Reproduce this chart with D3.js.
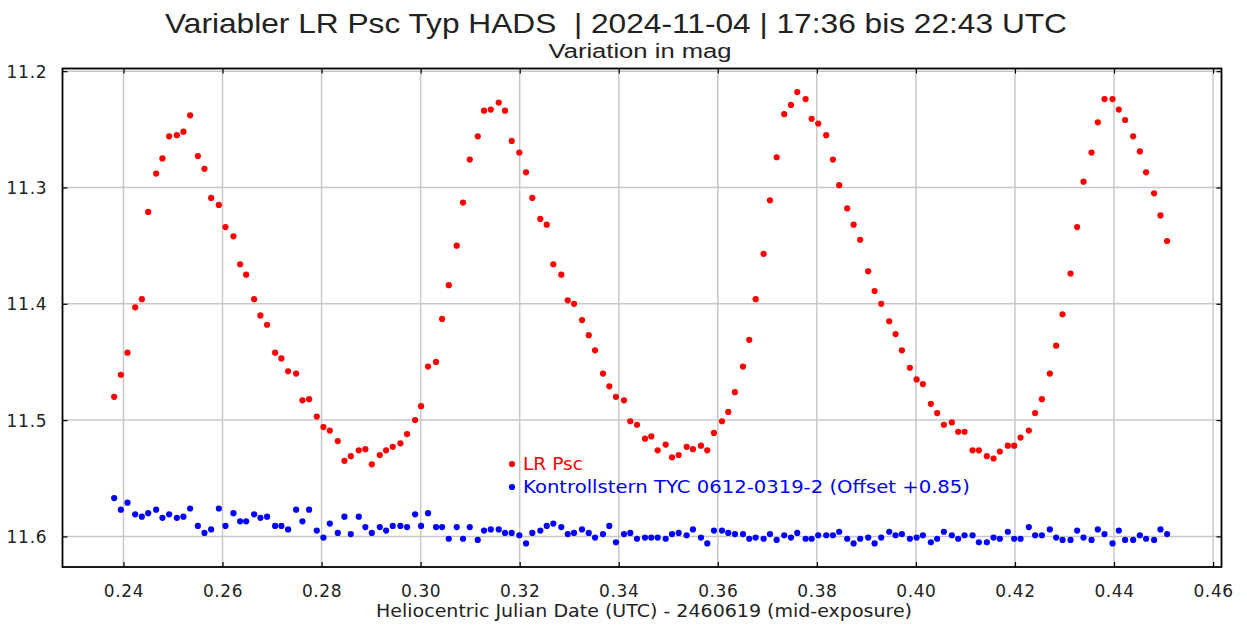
<!DOCTYPE html>
<html>
<head>
<meta charset="utf-8">
<script src="https://cdn.jsdelivr.net/npm/d3@7"></script>
<style>
  body { margin: 0; background: #fff; }
  .chart text { font-family: "DejaVu Sans", sans-serif; fill: #222; }
</style>
</head>
<body>
<div class="chart"></div>
<script>
// time axis (HJD - 2460619), shared by both stars
const hjd = [
  0.23812, 0.23948, 0.24081, 0.24236, 0.24371, 0.24499, 0.24660, 0.24787, 0.24922, 0.25078,
  0.25211, 0.25346, 0.25502, 0.25635, 0.25770, 0.25926, 0.26059, 0.26220, 0.26355, 0.26477,
  0.26638, 0.26765, 0.26900, 0.27062, 0.27189, 0.27324, 0.27486, 0.27613, 0.27748, 0.27903,
  0.28037, 0.28166, 0.28327, 0.28461, 0.28590, 0.28751, 0.28884, 0.29014, 0.29175, 0.29302,
  0.29437, 0.29591, 0.29726, 0.29888, 0.30009, 0.30150, 0.30311, 0.30433, 0.30568, 0.30729,
  0.30856, 0.30992, 0.31153, 0.31280, 0.31416, 0.31577, 0.31704, 0.31839, 0.31993, 0.32128,
  0.32255, 0.32417, 0.32546, 0.32679, 0.32840, 0.32970, 0.33097, 0.33258, 0.33394, 0.33521,
  0.33682, 0.33809, 0.33944, 0.34106, 0.34233, 0.34368, 0.34530, 0.34657, 0.34786, 0.34948,
  0.35075, 0.35210, 0.35371, 0.35498, 0.35660, 0.35787, 0.35922, 0.36084, 0.36211, 0.36346,
  0.36508, 0.36635, 0.36764, 0.36925, 0.37053, 0.37188, 0.37341, 0.37477, 0.37604, 0.37773,
  0.37894, 0.38028, 0.38189, 0.38324, 0.38451, 0.38613, 0.38742, 0.38875, 0.39037, 0.39166,
  0.39299, 0.39461, 0.39590, 0.39717, 0.39878, 0.40014, 0.40141, 0.40302, 0.40429, 0.40565,
  0.40726, 0.40853, 0.40982, 0.41144, 0.41271, 0.41432, 0.41568, 0.41695, 0.41856, 0.41984,
  0.42113, 0.42280, 0.42407, 0.42543, 0.42704, 0.42831, 0.42960, 0.43122, 0.43255, 0.43384,
  0.43546, 0.43673, 0.43808, 0.43970, 0.44097, 0.44224, 0.44386, 0.44521, 0.44648, 0.44809,
  0.44938, 0.45071
]

// LR Psc
const magVar = [
  11.480, 11.461, 11.442, 11.403, 11.396, 11.321, 11.288, 11.275, 11.256, 11.255,
  11.252, 11.238, 11.273, 11.284, 11.309, 11.315, 11.334, 11.342, 11.366, 11.375,
  11.396, 11.410, 11.418, 11.442, 11.447, 11.458, 11.460, 11.483, 11.482, 11.497,
  11.506, 11.509, 11.518, 11.535, 11.531, 11.526, 11.525, 11.538, 11.530, 11.526,
  11.523, 11.520, 11.512, 11.500, 11.488, 11.454, 11.450, 11.413, 11.384, 11.350,
  11.313, 11.276, 11.256, 11.234, 11.233, 11.227, 11.234, 11.260, 11.270, 11.287,
  11.309, 11.327, 11.332, 11.366, 11.375, 11.397, 11.400, 11.414, 11.427, 11.440,
  11.460, 11.471, 11.480, 11.483, 11.501, 11.504, 11.516, 11.514, 11.526, 11.521,
  11.532, 11.530, 11.523, 11.525, 11.522, 11.526, 11.511, 11.501, 11.493, 11.476,
  11.454, 11.431, 11.396, 11.357, 11.311, 11.274, 11.237, 11.229, 11.218, 11.224,
  11.241, 11.245, 11.255, 11.276, 11.298, 11.318, 11.332, 11.345, 11.372, 11.389,
  11.400, 11.415, 11.426, 11.440, 11.455, 11.465, 11.469, 11.486, 11.494, 11.504,
  11.502, 11.510, 11.510, 11.526, 11.526, 11.531, 11.533, 11.527, 11.522, 11.522,
  11.515, 11.509, 11.494, 11.482, 11.460, 11.436, 11.409, 11.374, 11.334, 11.295,
  11.270, 11.244, 11.224, 11.224, 11.233, 11.242, 11.256, 11.269, 11.287, 11.305,
  11.324, 11.346
]

// comparison star, already offset by +0.85
const magComp = [
  11.567, 11.577, 11.571, 11.581, 11.583, 11.580, 11.577, 11.584, 11.581, 11.584,
  11.583, 11.576, 11.591, 11.597, 11.594, 11.576, 11.591, 11.580, 11.587, 11.587,
  11.581, 11.584, 11.583, 11.591, 11.591, 11.594, 11.577, 11.587, 11.577, 11.595,
  11.601, 11.589, 11.597, 11.583, 11.598, 11.583, 11.592, 11.597, 11.592, 11.595,
  11.591, 11.591, 11.592, 11.581, 11.591, 11.580, 11.592, 11.592, 11.602, 11.592,
  11.602, 11.592, 11.603, 11.595, 11.594, 11.594, 11.597, 11.597, 11.599, 11.606,
  11.597, 11.595, 11.591, 11.589, 11.592, 11.598, 11.597, 11.594, 11.597, 11.601,
  11.598, 11.591, 11.605, 11.598, 11.597, 11.602, 11.601, 11.601, 11.601, 11.602,
  11.598, 11.597, 11.599, 11.594, 11.601, 11.606, 11.595, 11.595, 11.597, 11.598,
  11.598, 11.602, 11.601, 11.602, 11.598, 11.603, 11.599, 11.601, 11.597, 11.602,
  11.602, 11.599, 11.599, 11.599, 11.596, 11.602, 11.606, 11.602, 11.601, 11.606,
  11.601, 11.596, 11.599, 11.598, 11.602, 11.601, 11.599, 11.605, 11.602, 11.596,
  11.599, 11.602, 11.599, 11.599, 11.605, 11.605, 11.601, 11.602, 11.596, 11.602,
  11.602, 11.592, 11.599, 11.599, 11.594, 11.601, 11.603, 11.603, 11.595, 11.601,
  11.603, 11.594, 11.598, 11.606, 11.595, 11.603, 11.603, 11.599, 11.602, 11.603,
  11.594, 11.598
]

const xTicks = [0.24, 0.26, 0.28, 0.30, 0.32, 0.34, 0.36, 0.38, 0.40, 0.42, 0.44, 0.46]
const yTicks = [11.2, 11.3, 11.4, 11.5, 11.6]

const titleText = 'Variabler LR Psc Typ HADS  | 2024-11-04 | 17:36 bis 22:43 UTC'
const subTitle = 'Variation in mag'
const xLabel = 'Heliocentric Julian Date (UTC) - 2460619 (mid-exposure)'
const legendNames = ['LR Psc', 'Kontrollstern TYC 0612-0319-2 (Offset +0.85)']
const colors = ['#ff0000', '#0000ff']

const W = 1247, H = 625
const m = { left: 62.5, top: 68.5, right: 25.5, bottom: 58 }
const iw = W - m.left - m.right
const ih = H - m.top - m.bottom

let svg = d3.select('.chart').append('svg')
  .attr('width', W)
  .attr('height', H)

let x = d3.scaleLinear().domain([0.22769, 0.4617]).range([0, iw])
let y = d3.scaleLinear().domain([11.1977, 11.6263]).range([0, ih])

let g = svg.append('g').attr('transform', `translate(${m.left},${m.top})`)

// grid
g.append('g').selectAll('line').data(xTicks).join('line')
  .attr('x1', d => x(d)).attr('x2', d => x(d))
  .attr('y1', 0).attr('y2', ih)
  .attr('stroke', '#c8c8c8').attr('stroke-width', 1.5)
g.append('g').selectAll('line').data(yTicks).join('line')
  .attr('x1', 0).attr('x2', iw)
  .attr('y1', d => y(d)).attr('y2', d => y(d))
  .attr('stroke', '#c8c8c8').attr('stroke-width', 1.5)

// axes with inward ticks
let xAxis = g.append('g').attr('transform', `translate(0,${ih})`)
  .call(d3.axisBottom(x).tickValues(xTicks).tickFormat(d3.format('.2f')).tickSizeInner(-5).tickSizeOuter(0).tickPadding(18))
let yAxis = g.append('g')
  .call(d3.axisLeft(y).tickValues(yTicks).tickFormat(d3.format('.1f')).tickSizeInner(-5).tickSizeOuter(0).tickPadding(15))
g.append('g').attr('transform', `translate(${iw},0)`)
  .call(d3.axisRight(y).tickValues(yTicks).tickFormat('').tickSizeInner(-5).tickSizeOuter(0))
g.append('g')
  .call(d3.axisTop(x).tickValues(xTicks).tickFormat('').tickSizeInner(-5).tickSizeOuter(0))

g.selectAll('.domain').remove()
g.selectAll('.tick line').attr('stroke', '#000').attr('stroke-width', 1.2)
xAxis.selectAll('text').style('font-size', '17px').attr('letter-spacing', '0.6px')
yAxis.selectAll('text').style('font-size', '17px').attr('letter-spacing', '0.8px').attr('dy', '0.36em')

g.append('rect')
  .attr('width', iw).attr('height', ih)
  .attr('fill', 'none').attr('stroke', '#000').attr('stroke-width', 1.8)

// data points
let series = [magVar, magComp]
series.forEach((vals, k) => {
  g.append('g').selectAll('circle').data(vals).join('circle')
    .attr('cx', (d, i) => x(hjd[i]))
    .attr('cy', d => y(d))
    .attr('r', 3.1)
    .attr('fill', colors[k])
})

// legend
legendNames.forEach((name, k) => {
  let ly = 464 + k * 23
  svg.append('circle').attr('cx', 512).attr('cy', ly).attr('r', 3.1).attr('fill', colors[k])
  svg.append('text')
    .attr('x', 523).attr('y', ly).attr('dy', '0.35em')
    .attr('textLength', k == 0 ? 60 : 447)
    .attr('lengthAdjust', 'spacingAndGlyphs')
    .style('font-size', '17px')
    .style('fill', colors[k])
    .text(name)
})

// titles
svg.append('text')
  .attr('x', 616).attr('y', 33)
  .attr('text-anchor', 'middle')
  .attr('textLength', 902).attr('lengthAdjust', 'spacingAndGlyphs')
  .style('white-space', 'pre')
  .style('font-family', '"Liberation Sans", sans-serif')
  .style('font-size', '28px')
  .text(titleText)

svg.append('text')
  .attr('x', 640).attr('y', 58)
  .attr('text-anchor', 'middle')
  .attr('textLength', 183).attr('lengthAdjust', 'spacingAndGlyphs')
  .style('font-family', '"Liberation Sans", sans-serif')
  .style('font-size', '20px')
  .text(subTitle)

svg.append('text')
  .attr('x', 644).attr('y', 617)
  .attr('text-anchor', 'middle')
  .attr('textLength', 536).attr('lengthAdjust', 'spacingAndGlyphs')
  .style('font-size', '17px')
  .text(xLabel)
</script>
</body>
</html>
